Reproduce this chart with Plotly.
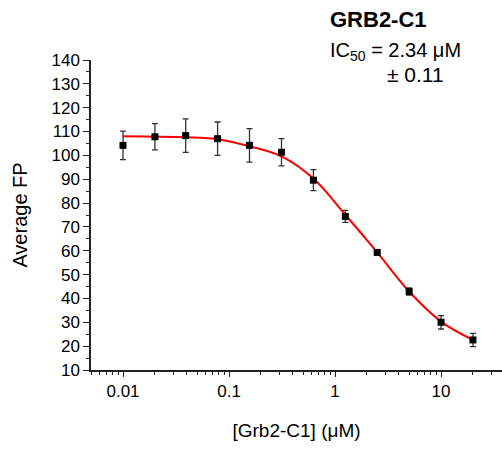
import plotly.graph_objects as go

# Data
conc_uM = [0.01, 0.02, 0.039, 0.078, 0.156, 0.3125, 0.625, 1.25, 2.5, 5, 10, 20]
avg_fp = [104.2, 107.8, 108.3, 107.0, 104.2, 101.3, 89.6, 74.4, 59.3, 42.9, 30.0, 22.6]
fp_err = [6.0, 5.5, 7.0, 7.0, 7.0, 5.7, 4.4, 2.5, 1.0, 1.5, 2.8, 2.8]

# fitted curve, points
fit_x = [0.01, 0.039, 0.078, 0.156, 0.3125, 0.625, 1.25, 2.5, 5, 10, 20]
fit_y = [108.0, 107.6, 106.8, 103.8, 99.6, 90.3, 75.1, 59.3, 42.9, 30.3, 22.6]

x_tickvals = [0.01, 0.1, 1, 10]
x_ticktext = ["0.01", "0.1", "1", "10"]
y_tickvals = [10, 20, 30, 40, 50, 60, 70, 80, 90, 100, 110, 120, 130, 140]

FONT = "Liberation Sans, Arial, sans-serif"
W, H = 502, 452
L, R, T, B = 91, 0, 60, 82

fig = go.Figure()
fig.add_trace(go.Scatter(
    x=fit_x, y=fit_y, mode="lines", line=dict(color="#ff0000", width=2, shape="spline", smoothing=1.0),
    hoverinfo="skip", showlegend=False))
fig.add_trace(go.Scatter(
    x=conc_uM, y=avg_fp, mode="markers",
    marker=dict(symbol="square", size=7, color="black"),
    error_y=dict(type="data", array=fp_err, visible=True, color="#333333", thickness=1.3, width=3),
    showlegend=False))

axis_common = dict(
    showline=True, linecolor="#222222", linewidth=1.5, ticks="outside", tickcolor="#222222",
    tickwidth=1.3, showgrid=False, zeroline=False, mirror=False, automargin=False,
    tickfont=dict(family=FONT, size=17, color="black"),
)

fig.update_xaxes(
    type="log", range=[-2.302, 1.575], tickvals=x_tickvals, ticktext=x_ticktext, ticklen=5,
    minor=dict(ticks="outside", ticklen=3, tickcolor="#222222", tickwidth=1.2, dtick="D1"),
    title=dict(text="[Grb2-C1] (μM)", font=dict(family=FONT, size=19, color="black"), standoff=24),
    **axis_common)
fig.update_yaxes(
    range=[10, 140], tickvals=y_tickvals, ticklen=6,
    minor=dict(ticks="outside", ticklen=3, tickcolor="#222222", tickwidth=1.2, dtick=5),
    title=dict(text="Average FP", font=dict(family=FONT, size=20, color="black"), standoff=18),
    **axis_common)

def px(x):
    return (x - L) / (W - L - R)

def py(y):
    return (H - B - y) / (H - T - B)

fig.add_annotation(x=px(328), y=py(20), xref="paper", yref="paper", xanchor="left", yanchor="middle",
                   text="<b>GRB2-C1</b>", showarrow=False, font=dict(family=FONT, size=22, color="black"))
fig.add_annotation(x=px(328), y=py(52), xref="paper", yref="paper", xanchor="left", yanchor="middle",
                   text="IC<sub>50</sub> = 2.34 μM", showarrow=False, font=dict(family=FONT, size=20, color="black"))
fig.add_annotation(x=px(385), y=py(75), xref="paper", yref="paper", xanchor="left", yanchor="middle",
                   text="± 0.11", showarrow=False, font=dict(family=FONT, size=21, color="black"))

fig.update_layout(
    width=W, height=H, margin=dict(l=L, r=R, t=T, b=B, pad=0, autoexpand=False),
    paper_bgcolor="white", plot_bgcolor="white",
    font=dict(family=FONT, color="black"),
)

fig.write_html("out.html", config={"displayModeBar": False},
               post_script="document.body.style.margin='0';")
